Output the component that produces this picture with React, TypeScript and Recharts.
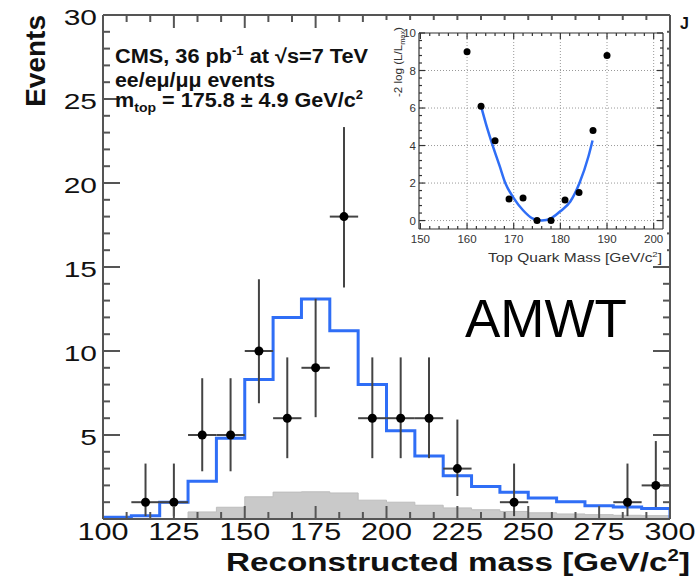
import React from 'react';
import { ComposedChart, Line, Area, Scatter, XAxis, YAxis, ErrorBar, ReferenceLine } from 'recharts';

// main histogram, 10 GeV bins from 100 to 300
const BIN_EDGES = [100, 110, 120, 130, 140, 150, 160, 170, 180, 190, 200, 210, 220, 230, 240, 250, 260, 270, 280, 290, 300];
const EXPECTED = [0.1, 0.2, 1.0, 2.25, 4.8, 8.3, 12.0, 13.1, 11.2, 8.0, 5.25, 3.75, 2.58, 1.94, 1.59, 1.25, 1.03, 0.79, 0.71, 0.63];
const BACKGROUND = [0, 0, 0, 0.42, 0.7, 1.32, 1.6, 1.62, 1.55, 1.12, 1.0, 0.82, 0.66, 0.55, 0.45, 0.37, 0.3, 0.26, 0.22, 0.2];

// data points (empty bins not drawn)
const DATA_MASS = [115, 125, 135, 145, 155, 165, 175, 185, 195, 205, 215, 225, 245, 285, 295];
const DATA_EVENTS = [1, 1, 5, 5, 10, 6, 9, 18, 6, 6, 6, 3, 1, 1, 2];
const DATA_ERR_UP = [2.3, 2.3, 3.38, 3.38, 4.27, 3.62, 4.11, 5.33, 3.62, 3.62, 3.62, 2.92, 2.3, 2.3, 2.64];
const DATA_ERR_DOWN = [0.83, 0.83, 2.16, 2.16, 3.11, 2.38, 2.94, 4.22, 2.38, 2.38, 2.38, 1.63, 0.83, 0.83, 1.29];
const BIN_HALF_WIDTH = 5;

const X_LABELS = [100, 125, 150, 175, 200, 225, 250, 275, 300];
const Y_LABELS = [0, 5, 10, 15, 20, 25, 30];

// inset: likelihood scan and fit
const SCAN_MASS = [160, 163, 166, 169, 172, 175, 178, 181, 184, 187, 190];
const SCAN_LL = [9.0, 6.1, 4.25, 1.15, 1.2, 0, 0, 1.1, 1.5, 4.8, 8.8];
const FIT_MASS = [163, 164, 165.5, 167, 168.2, 170, 172, 174, 176, 178, 180, 182.1, 184.1, 186, 186.9];
const FIT_LL = [6.1, 5.2, 4.0, 2.9, 2.0, 1.2, 0.55, 0.12, 0, 0.12, 0.5, 1.0, 2.0, 3.4, 4.27];
const INSET_X_LABELS = [150, 160, 170, 180, 190, 200];
const INSET_Y_LABELS = [0, 2, 4, 6, 8, 10];
const INSET_X_GRID = [160, 170, 180, 190, 200];
const INSET_Y_GRID = [0, 2, 4, 6, 8];

const W = 695;
const H = 578;
const FONT = "'Liberation Sans', Arial, Helvetica, sans-serif";
const AXIS = '#555';
const BLUE = '#2f6ef6';

const MAIN_TOP = 15;
const MAIN_RIGHT = 670;
const INSET_W = 282;
const INSET_H = 244;
const INSET_TOP = 13;
const INSET_RIGHT = 278;

// ticks between the labelled ones
const subdivide = (majors: number[], n: number) =>
    majors.flatMap((m, i) =>
        i === majors.length - 1 ? [m] : Array.from({ length: n }, (_, k) => m + ((majors[i + 1] - m) * k) / n)
    );

const isMajor = (v: number, step: number) => Math.abs(v / step - Math.round(v / step)) < 1e-6;

const histRows = BIN_EDGES.map((x, i) => ({
    x,
    total: i < EXPECTED.length ? EXPECTED[i] : EXPECTED[EXPECTED.length - 1],
    bkg: i < BACKGROUND.length ? BACKGROUND[i] : BACKGROUND[BACKGROUND.length - 1],
}));
histRows.push({ x: 300, total: 0, bkg: 0 });

const points = DATA_MASS.map((x, i) => ({
    x,
    y: DATA_EVENTS[i],
    ey: [DATA_ERR_DOWN[i], DATA_ERR_UP[i]],
    ex: BIN_HALF_WIDTH,
}));

const scanRows = SCAN_MASS.map((m, i) => ({ m, ll: SCAN_LL[i] }));
const fitRows = FIT_MASS.map((m, i) => ({ m, ll: FIT_LL[i] }));

const MainXTick = (props: any) => {
    const { x, y, payload } = props;
    const major = isMajor(payload.value, 25);
    const len = major ? 13 : 7;
    return (
        <g>
            <line x1={x} x2={x} y1={y} y2={y - len} stroke={AXIS} strokeWidth={2} />
            <line x1={x} x2={x} y1={MAIN_TOP} y2={MAIN_TOP + len} stroke={AXIS} strokeWidth={2} />
            {major && (
                <text transform={`translate(${x},${y + 21}) scale(1.33,1)`} textAnchor="middle"
                    fontSize={23} fontFamily={FONT} fill="#111">{payload.value}</text>
            )}
        </g>
    );
};

const MainYTick = (props: any) => {
    const { x, y, payload } = props;
    const major = isMajor(payload.value, 5);
    const len = major ? 17 : 7;
    return (
        <g>
            <line x1={x} x2={x + len} y1={y} y2={y} stroke={AXIS} strokeWidth={2} />
            <line x1={MAIN_RIGHT - len} x2={MAIN_RIGHT} y1={y} y2={y} stroke={AXIS} strokeWidth={2} />
            {major && payload.value !== 0 && (
                <text transform={`translate(${x - 6},${y + 10}) scale(1.36,1)`} textAnchor="end"
                    fontSize={22} fontFamily={FONT} fill="#111">{payload.value}</text>
            )}
        </g>
    );
};

const InsetXTick = (props: any) => {
    const { x, y, payload } = props;
    const major = isMajor(payload.value, 10);
    const len = major ? 6 : 3;
    return (
        <g>
            <line x1={x} x2={x} y1={y} y2={y - len} stroke="#333" strokeWidth={1.2} />
            <line x1={x} x2={x} y1={INSET_TOP} y2={INSET_TOP + len} stroke="#333" strokeWidth={1.2} />
            {major && (
                <text x={x} y={y + 14} textAnchor="middle" fontSize={11.5} fontFamily={FONT} fill="#333">
                    {payload.value}
                </text>
            )}
        </g>
    );
};

const InsetYTick = (props: any) => {
    const { x, y, payload } = props;
    const major = isMajor(payload.value, 2);
    const len = major ? 6 : 3;
    return (
        <g>
            <line x1={x} x2={x + len} y1={y} y2={y} stroke="#333" strokeWidth={1.2} />
            <line x1={INSET_RIGHT - len} x2={INSET_RIGHT} y1={y} y2={y} stroke="#333" strokeWidth={1.2} />
            {major && (
                <text x={x - 3} y={y + 4} textAnchor="end" fontSize={11.5} fontFamily={FONT} fill="#333">
                    {payload.value}
                </text>
            )}
        </g>
    );
};

const App: React.FC = () => {
    return (
        <div style={{ position: 'absolute', left: 0, top: 0, width: W, height: H, background: '#fff' }}>
            <div style={{ position: 'absolute', left: 0, top: 0 }}>
                <ComposedChart width={W} height={H} data={histRows}
                    margin={{ top: 15, right: 25, bottom: 0, left: 0 }}>
                    <Area dataKey="bkg" type="stepAfter" fill="#c9c9c9" fillOpacity={1} stroke="#bdbdbd"
                        strokeWidth={1} isAnimationActive={false} />
                    <Line dataKey="total" type="stepAfter" stroke={BLUE} strokeWidth={3} dot={false}
                        isAnimationActive={false} />
                    <Scatter data={points} dataKey="y" isAnimationActive={false}
                        shape={(p: any) => <circle cx={p.cx} cy={p.cy} r={4.5} fill="#000" />}>
                        <ErrorBar dataKey="ey" direction="y" width={0} stroke="#444" strokeWidth={2} />
                        <ErrorBar dataKey="ex" direction="x" width={0} stroke="#444" strokeWidth={2} />
                    </Scatter>
                    <ReferenceLine y={30} stroke={AXIS} strokeWidth={2} ifOverflow="visible" />
                    <ReferenceLine x={300} stroke={AXIS} strokeWidth={2} ifOverflow="visible" />
                    <XAxis dataKey="x" type="number" domain={[100, 300]} allowDataOverflow
                        ticks={subdivide(X_LABELS, 3)} interval={0} tick={<MainXTick />}
                        tickLine={false} tickSize={0} tickMargin={0} height={59}
                        axisLine={{ stroke: AXIS, strokeWidth: 2 }} />
                    <YAxis type="number" domain={[0, 30]} allowDataOverflow
                        ticks={subdivide(Y_LABELS, 5)} interval={0} tick={<MainYTick />}
                        tickLine={false} tickSize={0} tickMargin={0} width={103}
                        axisLine={{ stroke: AXIS, strokeWidth: 2 }} />
                </ComposedChart>
            </div>

            <div style={{ position: 'absolute', left: 385, top: 20, width: INSET_W, height: INSET_H, background: '#fff' }}>
                <ComposedChart width={INSET_W} height={INSET_H}
                    margin={{ top: 13, right: 4, bottom: 0, left: 0 }}>
                    {INSET_X_GRID.map((v) => (
                        <ReferenceLine key={`gx${v}`} x={v} stroke="#999" strokeDasharray="1 2" />
                    ))}
                    {INSET_Y_GRID.map((v) => (
                        <ReferenceLine key={`gy${v}`} y={v} stroke="#999" strokeDasharray="1 2" />
                    ))}
                    <Line data={fitRows} dataKey="ll" type="monotone" stroke={BLUE} strokeWidth={2.5}
                        dot={false} isAnimationActive={false} />
                    <Scatter data={scanRows} dataKey="ll" isAnimationActive={false}
                        shape={(p: any) => <circle cx={p.cx} cy={p.cy} r={3.5} fill="#000" />} />
                    <ReferenceLine y={10} stroke="#333" strokeWidth={1.2} ifOverflow="visible" />
                    <ReferenceLine x={202} stroke="#333" strokeWidth={1.2} ifOverflow="visible" />
                    <XAxis dataKey="m" type="number" domain={[149.7, 202]} allowDataOverflow
                        ticks={subdivide(INSET_X_LABELS, 5)} interval={0} tick={<InsetXTick />}
                        tickLine={false} tickSize={0} tickMargin={0} height={35}
                        axisLine={{ stroke: '#333', strokeWidth: 1.2 }} />
                    <YAxis type="number" domain={[-0.45, 10]} allowDataOverflow
                        ticks={subdivide(INSET_Y_LABELS, 5)} interval={0} tick={<InsetYTick />}
                        tickLine={false} tickSize={0} tickMargin={0} width={34}
                        axisLine={{ stroke: '#333', strokeWidth: 1.2 }} />
                </ComposedChart>
            </div>

            <svg width={W} height={H} style={{ position: 'absolute', left: 0, top: 0, pointerEvents: 'none' }}
                fontFamily={FONT}>
                <text transform="translate(45,15) rotate(-90)" textAnchor="end" fontSize={28} fontWeight="bold"
                    fill="#111">Events</text>
                <text x={690} y={571} textAnchor="end" fontSize={26} fontWeight="bold" fill="#111"
                    textLength={464} lengthAdjust="spacingAndGlyphs">
                    Reconstructed mass [GeV/c<tspan dy={-10} fontSize={16}>2</tspan><tspan dy={10}>]</tspan>
                </text>

                <text x={115} y={63} fontSize={20} fontWeight="bold" fill="#111" textLength={253}
                    lengthAdjust="spacingAndGlyphs">
                    CMS, 36 pb<tspan dy={-8} fontSize={12}>-1</tspan><tspan dy={8}> at √s=7 TeV</tspan>
                </text>
                <text x={115} y={87} fontSize={20} fontWeight="bold" fill="#111" textLength={160}
                    lengthAdjust="spacingAndGlyphs">ee/eμ/μμ events</text>
                <text x={115} y={107} fontSize={20} fontWeight="bold" fill="#111" textLength={248}
                    lengthAdjust="spacingAndGlyphs">
                    m<tspan dy={5} fontSize={13}>top</tspan><tspan dy={-5}> =  175.8 ± 4.9 GeV/c</tspan>
                    <tspan dy={-8} fontSize={12}>2</tspan>
                </text>

                <text x={465} y={337} fontSize={53} fill="#000">AMWT</text>

                <text x={662} y={262} textAnchor="end" fontSize={13} fill="#333" textLength={174}
                    lengthAdjust="spacingAndGlyphs">
                    Top Quark Mass [GeV/c<tspan dy={-5} fontSize={8}>2</tspan><tspan dy={5}>]</tspan>
                </text>
                <text transform="translate(402,97) rotate(-90)" fontSize={11} fill="#333" textLength={70}
                    lengthAdjust="spacingAndGlyphs">
                    -2 log (L/L<tspan dy={3} fontSize={7}>max</tspan><tspan dy={-3}>)</tspan>
                </text>

                <text x={680} y={29} fontSize={16} fontWeight="bold" fill="#111">J</text>
            </svg>
        </div>
    );
};

export default App;
